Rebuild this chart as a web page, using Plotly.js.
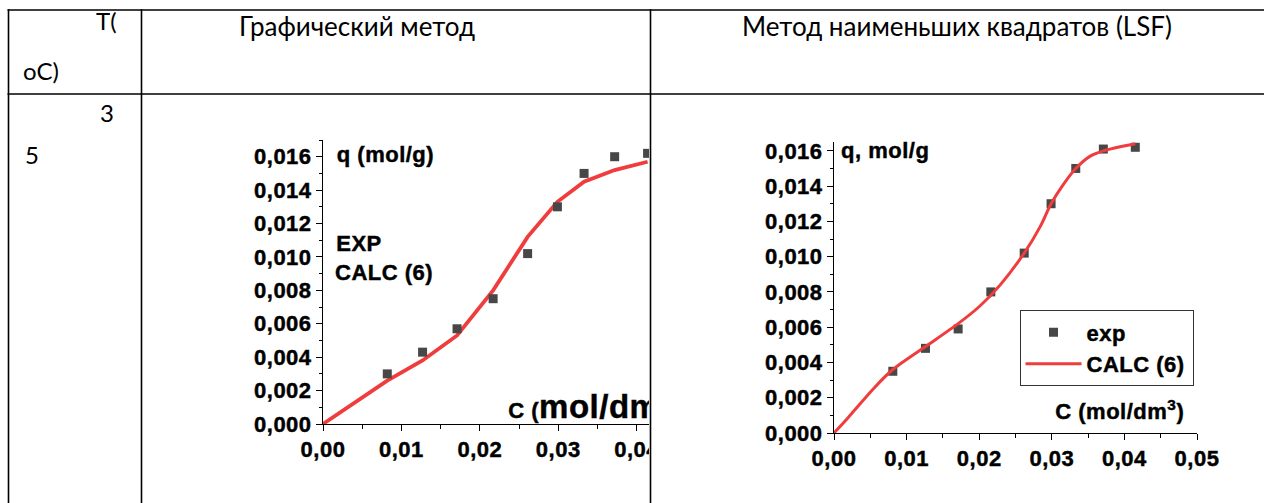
<!DOCTYPE html>
<html>
<head>
<meta charset="utf-8">
<script src="https://cdn.plot.ly/plotly-3.0.1.min.js"></script>
<style>
  html, body { margin:0; padding:0; background:#fff; }
  body { width:1264px; height:503px; overflow:hidden; position:relative; }
  #clip1 { position:absolute; left:143px; top:100px; width:506px; height:403px; overflow:hidden; }
  #chart1 { position:absolute; left:0; top:0; width:640px; height:400px; }
  #chart2 { position:absolute; left:655px; top:100px; width:605px; height:400px; }
  #table { position:absolute; left:0; top:0; width:1264px; height:503px; pointer-events:none; }
  .js-plotly-plot text { letter-spacing:0.5px; stroke:#000; stroke-width:0.45px; }
</style>
</head>
<body>
<div id="clip1"><div id="chart1"></div></div>
<div id="chart2"></div>
<svg id="table" width="1264" height="503" xmlns="http://www.w3.org/2000/svg">
  <g stroke="#000" stroke-width="1.6" fill="none">
    <line x1="7.5" y1="10" x2="1264" y2="10"/>
    <line x1="7.5" y1="94" x2="1264" y2="94"/>
    <line x1="8.5" y1="9.2" x2="8.5" y2="503"/>
    <line x1="141.5" y1="9.2" x2="141.5" y2="503"/>
    <line x1="650.5" y1="9.2" x2="650.5" y2="503"/>
  </g>
  <g font-family="Lato, 'Open Sans', sans-serif" fill="#000">
    <text x="96" y="29.5" font-size="24">T(</text>
    <text x="23" y="79.5" font-size="24">oC)</text>
    <text x="100" y="122" font-size="24">3</text>
    <text x="25" y="163.5" font-size="24">5</text>
    <text x="239" y="36" font-size="26">Графический метод</text>
    <text x="742" y="36" font-size="26">Метод наименьших квадратов (LSF)</text>
  </g>
</svg>
<script>
// ---- data: graphical method (left chart) ----
const c1ExpX  = [0.0082, 0.0127, 0.0171, 0.0217, 0.0261, 0.0299, 0.0333, 0.0372, 0.0414];
const c1ExpY  = [0.0030, 0.0043, 0.0057, 0.0075, 0.0102, 0.0130, 0.0150, 0.0160, 0.0162];
const c1CalcX = [0, 0.0082, 0.0127, 0.0171, 0.0217, 0.0261, 0.0299, 0.0333, 0.0372, 0.0414];
const c1CalcY = [0, 0.0026, 0.0038, 0.0053, 0.0080, 0.0112, 0.0133, 0.0145, 0.0152, 0.0157];
// ---- data: least squares method (right chart) ----
const c2ExpX  = [0.0081, 0.0126, 0.0171, 0.0216, 0.0262, 0.0299, 0.0333, 0.0371, 0.0415];
const c2ExpY  = [0.0035, 0.0048, 0.0059, 0.0080, 0.0102, 0.0130, 0.0150, 0.0161, 0.0162];
const c2CalcX = [0, 0.0020, 0.0054, 0.0081, 0.0126, 0.0171, 0.0201, 0.0229, 0.0262, 0.0284, 0.0299, 0.0316, 0.0333, 0.0353, 0.0371, 0.0415];
const c2CalcY = [0, 0.0009, 0.0025, 0.0036, 0.0049, 0.0062, 0.0072, 0.0084, 0.0102, 0.0117, 0.0130, 0.0141, 0.0150, 0.0157, 0.0160, 0.0164];
// ---- labels ----
const expName = 'exp';
const calcName = 'CALC (6)';
const xTickFmt = '.2f';
const yTickFmt = '.3f';

const FONT = 'Liberation Sans, Arial, sans-serif';
const RED = '#f03c3c';
const GREY = '#474747';
const FS = 22;

function makeAxes(xr, yr) {
  const common = {
    showgrid:false, zeroline:false, showline:true, linecolor:'#000', linewidth:1,
    ticks:'outside', ticklen:6, tickwidth:1, tickcolor:'#000',
    tickfont:{family:FONT, size:FS, color:'#000', weight:'bold'},
    fixedrange:true
  };
  return {
    xaxis: Object.assign({}, common, {range:xr, dtick:0.01, tick0:0, tickformat:xTickFmt,
      minor:{dtick:0.005, ticks:'outside', ticklen:4, tickcolor:'#000'}}),
    yaxis: Object.assign({}, common, {range:yr, dtick:0.002, tick0:0, tickformat:yTickFmt,
      minor:{dtick:0.001, ticks:'outside', ticklen:3, tickcolor:'#000'}})
  };
}

// geometry helpers (pixel -> paper)
function mk(g) {
  return {
    px: p => (p - g.L) / (g.R - g.L),
    py: p => (g.B - p) / (g.B - g.T)
  };
}

// ----- chart 1 -----
const g1 = {divL:143, divT:100, W:640, H:400, L:323.3, R:715.3, T:140, B:424.3};
const m1 = mk(g1);
const ax1 = makeAxes([0, 0.05], [0, 0.017]);
const annFont = {family:FONT, size:FS, color:'#000', weight:'bold'};
const layout1 = Object.assign({
  width:g1.W, height:g1.H,
  margin:{l:g1.L-g1.divL, r:g1.W-(g1.R-g1.divL), t:g1.T-g1.divT, b:g1.H-(g1.B-g1.divT), pad:0},
  paper_bgcolor:'rgba(0,0,0,0)', plot_bgcolor:'rgba(0,0,0,0)',
  separators:', ', showlegend:false,
  annotations:[
    {text:'q (mol/g)', xref:'paper', yref:'paper', x:m1.px(337), y:m1.py(155), xanchor:'left', yanchor:'middle', showarrow:false, font:annFont},
    {text:'EXP', xref:'paper', yref:'paper', x:m1.px(335), y:m1.py(244), xanchor:'left', yanchor:'middle', showarrow:false, font:annFont},
    {text:'CALC (6)', xref:'paper', yref:'paper', x:m1.px(335), y:m1.py(273), xanchor:'left', yanchor:'middle', showarrow:false, font:annFont},
    {text:'C (<span style="font-size:33px">mol/dm<sup>3</sup>)</span>', xref:'paper', yref:'paper', x:m1.px(509), y:m1.py(404), xanchor:'left', yanchor:'middle', showarrow:false, font:annFont}
  ]
}, ax1);
const traces1 = [
  {x:c1CalcX, y:c1CalcY, mode:'lines', line:{color:RED, width:3.8}, name:calcName, hoverinfo:'skip'},
  {x:c1ExpX, y:c1ExpY, mode:'markers', marker:{symbol:'square', size:9, color:GREY}, name:'EXP', hoverinfo:'skip', cliponaxis:false}
];
Plotly.newPlot('chart1', traces1, layout1, {displayModeBar:false, staticPlot:true});

// ----- chart 2 -----
const g2 = {divL:655, divT:100, W:605, H:400, L:834.3, R:1196.7, T:141.8, B:433.3};
const m2 = mk(g2);
const ax2 = makeAxes([0, 0.05], [0, 0.0165]);
const layout2 = Object.assign({
  width:g2.W, height:g2.H,
  margin:{l:g2.L-g2.divL, r:g2.W-(g2.R-g2.divL), t:g2.T-g2.divT, b:g2.H-(g2.B-g2.divT), pad:0},
  paper_bgcolor:'rgba(0,0,0,0)', plot_bgcolor:'rgba(0,0,0,0)',
  separators:', ', showlegend:true,
  legend:{x:m2.px(1019.5), y:m2.py(310.5), xanchor:'left', yanchor:'top',
    bordercolor:'#333', borderwidth:1, bgcolor:'#fff', itemwidth:56,
    font:{family:FONT, size:FS, color:'#000', weight:'bold'}, tracegroupgap:0},
  annotations:[
    {text:'q, mol/g', xref:'paper', yref:'paper', x:m2.px(841), y:m2.py(150.7), xanchor:'left', yanchor:'middle', showarrow:false, font:annFont},
    {text:'C (mol/dm<sup>3</sup>)', xref:'paper', yref:'paper', x:m2.px(1183), y:m2.py(410), xanchor:'right', yanchor:'middle', showarrow:false, font:annFont}
  ]
}, ax2);
const traces2 = [
  {x:c2ExpX, y:c2ExpY, mode:'markers', marker:{symbol:'square', size:9, color:GREY}, name:expName, hoverinfo:'skip', cliponaxis:false},
  {x:c2CalcX, y:c2CalcY, mode:'lines', line:{color:RED, width:3, shape:'spline', smoothing:0.8}, name:calcName + '\u00a0', hoverinfo:'skip'}
];
Plotly.newPlot('chart2', traces2, layout2, {displayModeBar:false, staticPlot:true});
</script>
</body>
</html>
